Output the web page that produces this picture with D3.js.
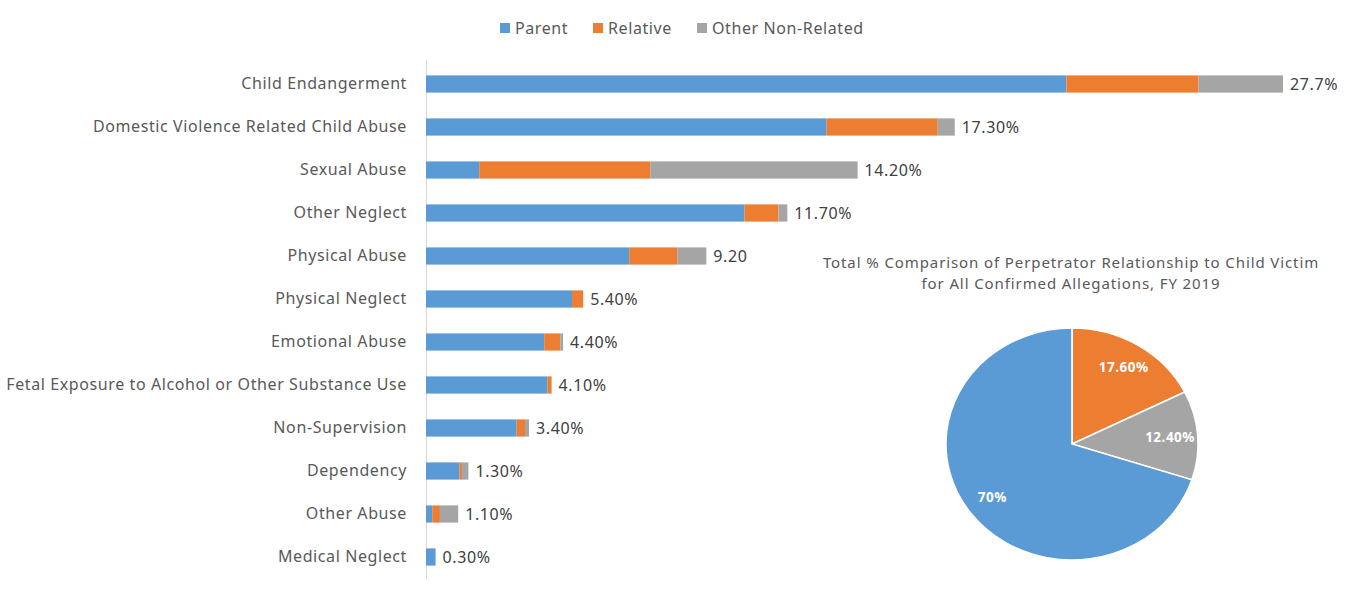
<!DOCTYPE html>
<html>
<head>
<meta charset="utf-8">
<script src="https://cdn.jsdelivr.net/npm/d3@7"></script>
<style>
  body { margin: 0; background: #fff; }
  text { font-family: 'Noto Sans', sans-serif; }
</style>
</head>
<body>
<script>
let w = 1361;
let h = 592;

let categories = ['Child Endangerment', 'Domestic Violence Related Child Abuse', 'Sexual Abuse',
  'Other Neglect', 'Physical Abuse', 'Physical Neglect', 'Emotional Abuse',
  'Fetal Exposure to Alcohol or Other Substance Use', 'Non-Supervision', 'Dependency',
  'Other Abuse', 'Medical Neglect'];
let parent = [20.7, 12.95, 1.72, 10.29, 6.57, 4.72, 3.82, 3.93, 2.93, 1.08, 0.2, 0.31];
let relative = [4.27, 3.59, 5.53, 1.1, 1.55, 0.36, 0.52, 0.13, 0.27, 0.08, 0.25, 0];
let otherNonRelated = [2.73, 0.55, 6.7, 0.29, 0.94, 0, 0.09, 0, 0.13, 0.21, 0.59, 0];
let totalLabels = ['27.7%', '17.30%', '14.20%', '11.70%', '9.20', '5.40%', '4.40%', '4.10%',
  '3.40%', '1.30%', '1.10%', '0.30%'];

let seriesNames = ['Parent', 'Relative', 'Other Non-Related'];
let colors = ['#5b9bd5', '#ed7d31', '#a5a5a5'];

let pieValues = [70, 17.6, 12.4];
let pieLabels = ['70%', '17.60%', '12.40%'];
let pieTitle = ['Total % Comparison of Perpetrator Relationship to Child Victim',
  'for All Confirmed Allegations, FY 2019'];

let rows = categories.map((c, i) => {
  return { cat: c, Parent: parent[i], Relative: relative[i], 'Other Non-Related': otherNonRelated[i], label: totalLabels[i] };
});

let svg = d3.select('body')
  .append('svg')
  .attr('width', w)
  .attr('height', h);

// bar chart
let xScale = d3.scaleLinear()
  .domain([0, 27.7])
  .range([426, 1283]);
let yScale = d3.scaleBand()
  .domain(categories)
  .range([62.5, 578.5])
  .paddingInner(0.6)
  .paddingOuter(0.3);

let stack = d3.stack().keys(seriesNames)(rows);

svg.append('line')
  .attr('x1', 426.5).attr('x2', 426.5)
  .attr('y1', 60).attr('y2', 579)
  .attr('stroke', '#d9d9d9')
  .attr('stroke-width', 1);

svg.selectAll('g.series')
  .data(stack)
  .enter()
  .append('g')
  .attr('class', 'series')
  .attr('fill', (d, i) => { return colors[i]; })
  .selectAll('rect')
  .data((d) => { return d; })
  .enter()
  .append('rect')
  .attr('x', (d) => { return xScale(d[0]); })
  .attr('y', (d) => { return yScale(d.data.cat); })
  .attr('width', (d) => { return xScale(d[1]) - xScale(d[0]); })
  .attr('height', yScale.bandwidth());

let yAxis = d3.axisLeft(yScale).tickSize(0).tickPadding(19);
let axisG = svg.append('g')
  .attr('transform', 'translate(426,0)')
  .call(yAxis);
axisG.select('.domain').remove();
axisG.selectAll('text')
  .attr('font-family', "'Noto Sans', sans-serif")
  .attr('font-size', '16px')
  .attr('letter-spacing', '0.6px')
  .attr('fill', '#595959');

svg.selectAll('text.total')
  .data(rows)
  .enter()
  .append('text')
  .attr('class', 'total')
  .text((d) => { return d.label; })
  .attr('x', (d) => { return xScale(d.Parent + d.Relative + d['Other Non-Related']) + 7; })
  .attr('y', (d) => { return yScale(d.cat) + yScale.bandwidth() / 2; })
  .attr('dy', '0.35em')
  .attr('font-size', '16px')
  .attr('letter-spacing', '0.6px')
  .attr('fill', '#404040');

// legend
let legendX = [500, 593, 697];
let legend = svg.selectAll('g.legend')
  .data(seriesNames)
  .enter()
  .append('g')
  .attr('class', 'legend')
  .attr('transform', (d, i) => { return 'translate(' + legendX[i] + ',28)'; });
legend.append('rect')
  .attr('x', 0).attr('y', -5)
  .attr('width', 10).attr('height', 10)
  .attr('fill', (d, i) => { return colors[i]; });
legend.append('text')
  .text((d) => { return d; })
  .attr('x', 15)
  .attr('dy', '0.35em')
  .attr('font-size', '16px')
  .attr('letter-spacing', '0.6px')
  .attr('fill', '#595959');

// pie chart
let cx = 1072;
let cy = 444;
let r = 116;
let stretch = 1.087;

svg.selectAll('text.pietitle')
  .data(pieTitle)
  .enter()
  .append('text')
  .attr('class', 'pietitle')
  .text((d) => { return d; })
  .attr('x', 1071)
  .attr('y', (d, i) => { return 268 + i * 21; })
  .attr('text-anchor', 'middle')
  .attr('font-size', '15px')
  .attr('letter-spacing', '0.9px')
  .attr('fill', '#595959');

let pie = d3.pie().sort(null).startAngle(0);
let pieOrder = [1, 2, 0];
let arcs = pie(pieOrder.map((i) => { return pieValues[i]; }));
let arc = d3.arc().innerRadius(0).outerRadius(r);
let labelArc = d3.arc().innerRadius(r * 0.78).outerRadius(r * 0.78);

let pieG = svg.append('g')
  .attr('transform', 'translate(' + cx + ',' + cy + ') scale(' + stretch + ',1)');
pieG.selectAll('path')
  .data(arcs)
  .enter()
  .append('path')
  .attr('d', arc)
  .attr('fill', (d, i) => { return colors[pieOrder[i]]; })
  .attr('stroke', '#fff')
  .attr('stroke-width', 1.5);

svg.selectAll('text.pielabel')
  .data(arcs)
  .enter()
  .append('text')
  .attr('class', 'pielabel')
  .text((d, i) => { return pieLabels[pieOrder[i]]; })
  .attr('x', (d) => { return cx + labelArc.centroid(d)[0] * stretch; })
  .attr('y', (d) => { return cy + labelArc.centroid(d)[1]; })
  .attr('text-anchor', 'middle')
  .attr('dy', '0.35em')
  .attr('font-size', '13.5px')
  .attr('letter-spacing', '0.5px')
  .attr('font-weight', 'bold')
  .attr('fill', '#fff');
</script>
</body>
</html>
